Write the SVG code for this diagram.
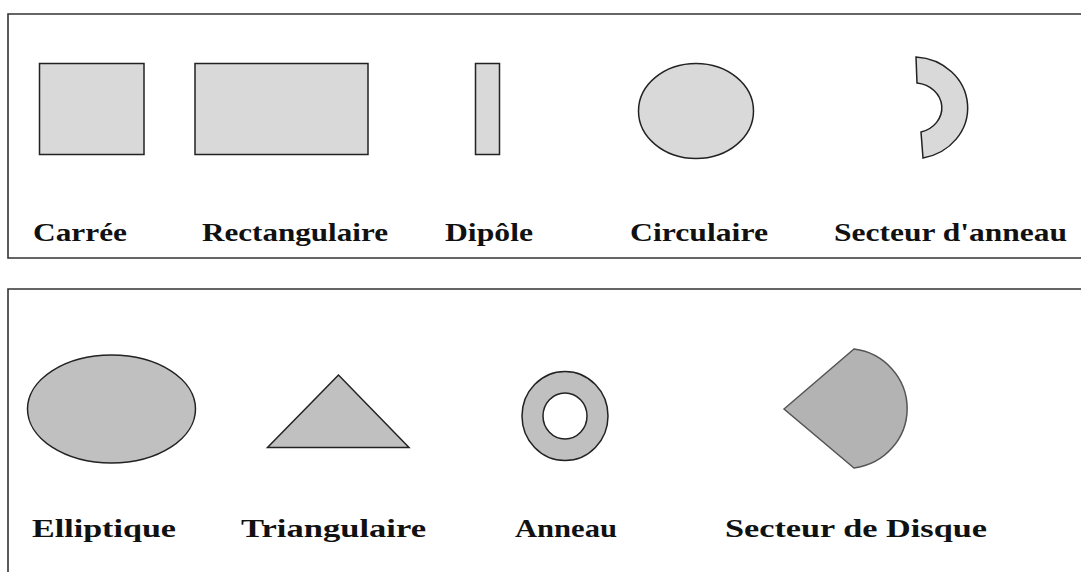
<svg xmlns="http://www.w3.org/2000/svg" width="1081" height="572" viewBox="0 0 1081 572">
<style>
.frame{fill:none;stroke:#333;stroke-width:1.6}
.lt{fill:#d9d9d9;stroke:#222;stroke-width:1.5}
.md{fill:#c0c0c0;stroke:#222;stroke-width:1.5}
.dk{fill:#b3b3b3;stroke:#555;stroke-width:1.5}
.lbl{font-family:"Liberation Serif","Times New Roman",serif;font-weight:bold;font-size:26px;fill:#111}
</style>
<rect width="1081" height="572" fill="#fff"/>
<g id="panel-top">
<path class="frame" d="M1081,14 H8 V258 H1081"/>
</g>
<g id="panel-bottom">
<path class="frame" d="M1081,289 H8 V572"/>
</g>
<g id="carree">
<rect class="lt" x="39.5" y="63.5" width="104.5" height="91"/>
<text class="lbl" x="33" y="241" textLength="94" lengthAdjust="spacingAndGlyphs">Carrée</text>
</g>
<g id="rectangulaire">
<rect class="lt" x="195" y="63.5" width="173" height="91"/>
<text class="lbl" x="202" y="241" textLength="186" lengthAdjust="spacingAndGlyphs">Rectangulaire</text>
</g>
<g id="dipole">
<rect class="lt" x="475.5" y="63.5" width="24" height="91"/>
<text class="lbl" x="445" y="241" textLength="88" lengthAdjust="spacingAndGlyphs">Dipôle</text>
</g>
<g id="circulaire">
<ellipse class="lt" cx="696" cy="111" rx="57.5" ry="47.5"/>
<text class="lbl" x="630" y="241" textLength="138" lengthAdjust="spacingAndGlyphs">Circulaire</text>
</g>
<g id="secteur-anneau">
<path class="lt" d="M916,57 A55,51 0 0 1 923,158 L921,132 A28,25 0 0 0 917,83 Z"/>
<text class="lbl" x="834" y="241" textLength="233" lengthAdjust="spacingAndGlyphs">Secteur d'anneau</text>
</g>
<g id="elliptique">
<ellipse class="md" cx="111.5" cy="409" rx="84" ry="54"/>
<text class="lbl" x="32" y="537" textLength="144" lengthAdjust="spacingAndGlyphs">Elliptique</text>
</g>
<g id="triangulaire">
<polygon class="md" points="338.5,375 267.5,447.5 409,447.5"/>
<text class="lbl" x="241" y="537" textLength="185" lengthAdjust="spacingAndGlyphs">Triangulaire</text>
</g>
<g id="anneau">
<path class="md" fill-rule="evenodd" d="M522,416 A43,44.5 0 1 0 608,416 A43,44.5 0 1 0 522,416 Z M543,416 A22,23 0 1 0 587,416 A22,23 0 1 0 543,416 Z"/>
<text class="lbl" x="515" y="537" textLength="102" lengthAdjust="spacingAndGlyphs">Anneau</text>
</g>
<g id="secteur-disque">
<path class="dk" d="M784,409 L854,349 A61,60 0 0 1 854,468 Z"/>
<text class="lbl" x="725" y="537" textLength="262" lengthAdjust="spacingAndGlyphs">Secteur de Disque</text>
</g>
<g id="connectors"></g>
</svg>
